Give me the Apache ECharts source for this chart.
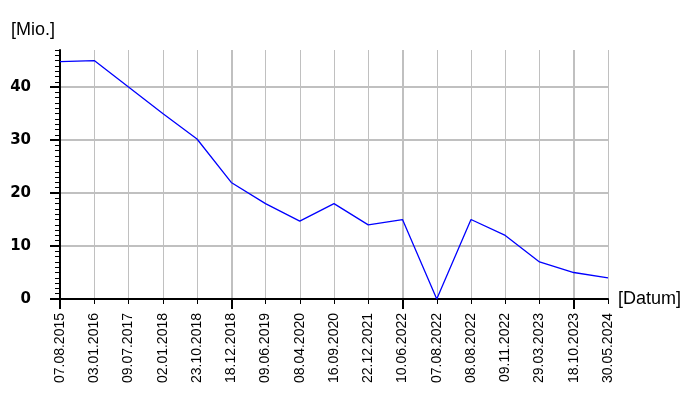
<!DOCTYPE html>
<html>
<head>
<meta charset="utf-8">
<script src="https://cdn.jsdelivr.net/npm/echarts@6/dist/echarts.min.js"></script>
<style>
html,body{margin:0;padding:0;background:#fff;}
#chart{width:700px;height:400px;}
</style>
</head>
<body>
<div id="chart"></div>
<script>
const dates = ['07.08.2015','03.01.2016','09.07.2017','02.01.2018','23.10.2018','18.12.2018','09.06.2019','08.04.2020','16.09.2020','22.12.2021','10.06.2022','07.08.2022','08.08.2022','09.11.2022','29.03.2023','18.10.2023','30.05.2024'];
const values = [44.8, 45, 40, 35, 30.2, 22, 18, 14.7, 18, 14, 15, 0, 15, 12, 7, 5, 4];
const yTicks = [0, 10, 20, 30, 40];
const yMax = 47;
const xName = '[Datum]';
const yName = '[Mio.]';

const chart = echarts.init(document.getElementById('chart'), null, {renderer: 'canvas'});
const isMajor = (i) => i % 5 === 0;
chart.setOption({
  animation: false,
  backgroundColor: '#ffffff',
  grid: {left: 60, right: 92, top: 50, bottom: 101, containLabel: false},
  xAxis: [
    {
      type: 'category', data: dates, boundaryGap: false, position: 'bottom',
      name: xName, nameLocation: 'end', nameGap: 10,
      nameTextStyle: {fontFamily: 'Liberation Sans, Arial', fontSize: 18, color: '#000', verticalAlign: 'middle', align: 'left'},
      axisLine: {show: true, lineStyle: {color: '#000', width: 2}},
      axisTick: {show: true, interval: 0, length: 5, lineStyle: {color: '#000', width: 1}},
      axisLabel: {show: true, interval: 0, rotate: 90, margin: 14, fontFamily: 'Liberation Sans, Arial', fontSize: 14, color: '#000'},
      splitLine: {show: true, interval: 0, lineStyle: {color: '#c0c0c0', width: 1}},
      z: 3
    },
    {
      type: 'category', data: dates, boundaryGap: false, position: 'bottom',
      axisLine: {show: false},
      axisTick: {show: true, interval: (i) => isMajor(i), length: 10, lineStyle: {color: '#000', width: 2}},
      axisLabel: {show: false},
      splitLine: {show: true, interval: (i) => isMajor(i), lineStyle: {color: '#c0c0c0', width: 2}},
      z: 2
    }
  ],
  yAxis: [
    {
      type: 'value', min: 0, max: yMax, interval: 10, position: 'left',
      name: yName, nameLocation: 'end', nameGap: 20,
      nameTextStyle: {fontFamily: 'Liberation Sans, Arial', fontSize: 18, color: '#000', align: 'right', verticalAlign: 'middle', padding: [0, 5, 0, 0]},
      axisLine: {show: true, lineStyle: {color: '#000', width: 2}},
      axisTick: {show: true, customValues: yTicks, length: 10, lineStyle: {color: '#000', width: 2}},
      axisLabel: {show: true, customValues: yTicks, margin: 29, fontFamily: 'DejaVu Sans', fontWeight: 'bold', fontSize: 15, color: '#000'},
      splitLine: {show: true, lineStyle: {color: '#c0c0c0', width: 2}},
      z: 3
    },
    {
      type: 'value', min: 0, max: yMax, interval: 1, position: 'left', offset: 0,
      axisLine: {show: false},
      axisTick: {show: true, length: 5, lineStyle: {color: '#000', width: 1}},
      axisLabel: {show: false},
      splitLine: {show: false},
      z: 2
    }
  ],
  series: [{
    type: 'line', data: values, xAxisIndex: 0, yAxisIndex: 0,
    showSymbol: false, symbol: 'none',
    lineStyle: {color: '#0000ff', width: 1.3},
    z: 5
  }]
});
</script>
</body>
</html>
